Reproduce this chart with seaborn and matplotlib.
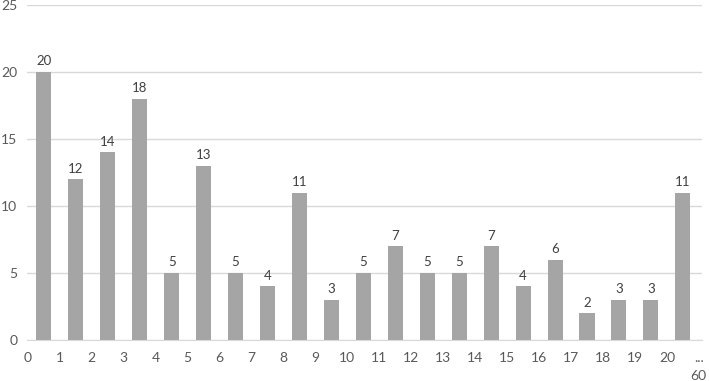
import numpy as np
import pandas as pd
import matplotlib
matplotlib.use("Agg")
import matplotlib.pyplot as plt
import seaborn as sns

# bin counts, one per bin (0-1, 1-2, ..., 20-60)
counts = [20, 12, 14, 18, 5, 13, 5, 4, 11, 3, 5, 7, 5, 5, 7, 4, 6, 2, 3, 3, 11]
edge_labels = [str(i) for i in range(21)] + ["...\n60"]
y_ticks = [0, 5, 10, 15, 20, 25]

BAR_COLOR = "#a5a5a5"
GRID_COLOR = "#d9d9d9"
TEXT_COLOR = "#595959"

sns.set_style("white")
plt.rcParams["font.family"] = ["Lato", "DejaVu Sans"]

df = pd.DataFrame({"pos": np.arange(len(counts)) + 0.5, "count": counts})

fig = plt.figure(figsize=(7.09, 3.81), dpi=100)
ax = fig.add_axes([27 / 709, 1 - 340 / 381, 675 / 709, 335 / 381])

sns.barplot(data=df, x="pos", y="count", native_scale=True, width=0.47,
            color=BAR_COLOR, saturation=1, linewidth=0, ax=ax)

# value labels above bars
for p, c in zip(df["pos"], df["count"]):
    ax.text(p, c + 0.35, str(c), ha="center", va="bottom",
            fontsize=9.5, color="#404040")

ax.set_xlim(-0.03, 21.1)
ax.set_ylim(0, 25)
ax.set_xticks(range(len(edge_labels)))
ax.set_xticklabels(edge_labels, fontsize=10, color=TEXT_COLOR, va="top",
                   linespacing=1.6)
ax.set_yticks(y_ticks)
ax.set_yticklabels([str(v) for v in y_ticks], fontsize=10, color=TEXT_COLOR)
ax.tick_params(axis="x", length=0, pad=9)
ax.tick_params(axis="y", length=0, pad=7)

ax.yaxis.grid(True, color=GRID_COLOR, lw=1)
ax.set_axisbelow(True)
for side in ["top", "right", "left"]:
    ax.spines[side].set_visible(False)
ax.spines["bottom"].set_color(GRID_COLOR)
ax.set_xlabel("")
ax.set_ylabel("")

fig.savefig("out.png", dpi=100)
